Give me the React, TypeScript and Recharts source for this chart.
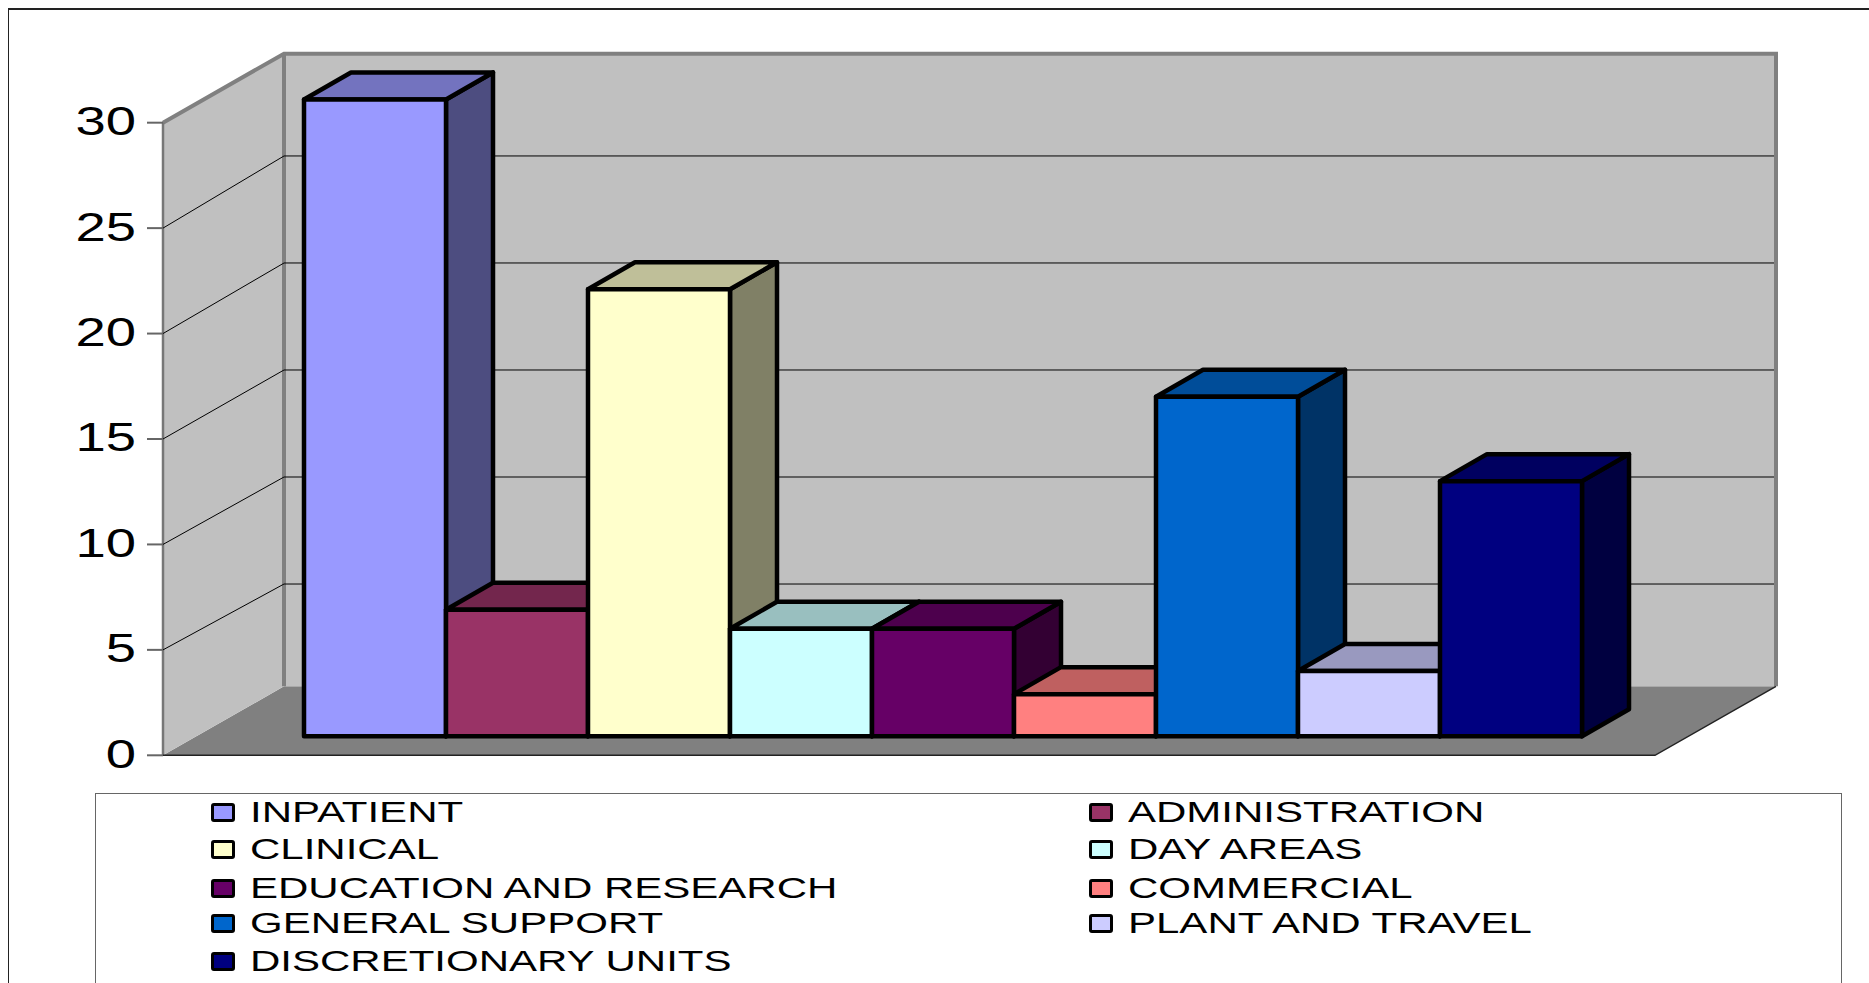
import React from 'react';
import { BarChart, Bar, XAxis, YAxis, Legend, ReferenceArea, ReferenceLine } from 'recharts';

const categories = [
  'INPATIENT',
  'ADMINISTRATION',
  'CLINICAL',
  'DAY AREAS',
  'EDUCATION AND RESEARCH',
  'COMMERCIAL',
  'GENERAL SUPPORT',
  'PLANT AND TRAVEL',
  'DISCRETIONARY UNITS',
];
const values = [30.2, 6, 21.2, 5.1, 5.1, 2, 16.1, 3.1, 12.1];
const colors = ['#9999FF', '#993366', '#FFFFCC', '#CCFFFF', '#660066', '#FF8080', '#0066CC', '#CCCCFF', '#000080'];
const yTicks = [0, 5, 10, 15, 20, 25, 30];
const gridTicks = [5, 10, 15, 20, 25];

const data = categories.map((name, i) => ({ name, value: values[i] }));

const FONT = '"Liberation Sans", Arial, sans-serif';

// the chart is drawn in a fake 3D box
const WALL_DX = 121;
const WALL_DY = 69;
const BAR_LIFT = 19;
const BAR_DX = 47;
const BAR_DY = 27;
const PAD_LEFT = 141;
const PAD_RIGHT = 73;

const legendRows = [18.5, 55.5, 94.5, 129.5, 167.5];
const legendCols = [115, 993];

function shade(hex: string, k: number) {
  const n = parseInt(hex.slice(1), 16);
  const c = (v: number) => Math.round(v * k);
  return `rgb(${c((n >> 16) & 255)},${c((n >> 8) & 255)},${c(n & 255)})`;
}

function Walls({ x: barsLeft, y, width: barsWidth, height }: any) {
  // the area comes in without the axis padding, put it back
  const x = barsLeft - PAD_LEFT;
  const width = barsWidth + PAD_LEFT + PAD_RIGHT;
  const bottom = y + height;
  const right = x + width;
  return (
    <g>
      <polygon
        points={`${x},${bottom} ${x + WALL_DX},${bottom - WALL_DY} ${right + WALL_DX},${bottom - WALL_DY} ${right},${bottom}`}
        fill="#808080"
      />
      <polygon
        points={`${x},${bottom} ${x + WALL_DX},${bottom - WALL_DY} ${x + WALL_DX},${y - WALL_DY} ${x},${y}`}
        fill="#C0C0C0"
      />
      <rect x={x + WALL_DX} y={y - WALL_DY} width={width} height={height} fill="#C0C0C0" />
      <polyline
        points={`${x},${y} ${x + WALL_DX},${y - WALL_DY} ${right + WALL_DX},${y - WALL_DY} ${right + WALL_DX},${bottom - WALL_DY}`}
        fill="none"
        stroke="#808080"
        strokeWidth={4}
      />
      <line x1={x + WALL_DX} y1={y - WALL_DY} x2={x + WALL_DX} y2={bottom - WALL_DY} stroke="#808080" strokeWidth={4} />
      <line x1={x} y1={y} x2={x} y2={bottom} stroke="#777" strokeWidth={2.5} />
      <polyline
        points={`${x},${bottom} ${right},${bottom} ${right + WALL_DX},${bottom - WALL_DY}`}
        fill="none"
        stroke="#222"
        strokeWidth={1.5}
      />
    </g>
  );
}

function WallGridLine({ x1, y1, x2 }: any) {
  // back wall lines are spaced a touch wider than the front ticks
  const backY = y1 - WALL_DY + (y1 - 439) * 0.015;
  return (
    <polyline
      points={`${x1},${y1} ${x1 + WALL_DX},${backY} ${x2 + WALL_DX - 2},${backY}`}
      fill="none"
      stroke="#000"
      strokeWidth={1}
    />
  );
}

function Bar3D({ x, y, width, height, index }: any) {
  const color = colors[index];
  const left = x;
  const right = x + width;
  const top = y - BAR_LIFT;
  const bottom = y + height - BAR_LIFT;
  const common = { stroke: '#000', strokeWidth: 4.5, strokeLinejoin: 'round' as const };
  return (
    <g>
      <polygon
        points={`${right},${top} ${right + BAR_DX},${top - BAR_DY} ${right + BAR_DX},${bottom - BAR_DY} ${right},${bottom}`}
        fill={shade(color, 0.5)}
        {...common}
      />
      <polygon
        points={`${left},${top} ${left + BAR_DX},${top - BAR_DY} ${right + BAR_DX},${top - BAR_DY} ${right},${top}`}
        fill={shade(color, 0.75)}
        {...common}
      />
      <rect x={left} y={top} width={width} height={height} fill={color} {...common} />
    </g>
  );
}

function YTick({ x, y, payload }: any) {
  return (
    <g transform={`translate(${x},${y - 2}) scale(1.36,1)`}>
      <text textAnchor="end" dy="0.36em" fontFamily={FONT} fontSize={40} fill="#000">
        {payload.value}
      </text>
    </g>
  );
}

function ChartLegend() {
  return (
    <div style={{ position: 'relative', width: '100%', height: '100%', fontFamily: FONT }}>
      {categories.map((name, i) => {
        const col = legendCols[i % 2 === 0 ? 0 : 1];
        const row = legendRows[Math.floor(i / 2)];
        return (
          <div key={name} style={{ position: 'absolute', left: col, top: row, height: 0 }}>
            <div
              style={{
                position: 'absolute',
                left: 0,
                top: -10,
                width: 18,
                height: 13,
                border: '3px solid #000',
                borderRadius: 3,
                background: colors[i],
              }}
            />
            <div
              style={{
                position: 'absolute',
                left: 39,
                top: -18,
                fontSize: 30,
                lineHeight: '34px',
                color: '#000',
                whiteSpace: 'nowrap',
                transform: 'scaleX(1.4)',
                transformOrigin: 'left center',
              }}
            >
              {name}
            </div>
          </div>
        );
      })}
    </div>
  );
}

export default function App() {
  return (
    <div style={{ position: 'absolute', left: 0, top: 0, width: 1869, height: 983, overflow: 'hidden', background: '#fff' }}>
      <div
        style={{
          position: 'absolute',
          left: 8,
          top: 8,
          width: 1861,
          height: 975,
          borderLeft: '1.5px solid #222',
          borderTop: '2px solid #222',
        }}
      />
      <BarChart
        width={1869}
        height={983}
        data={data}
        margin={{ top: 101.6, right: 214, bottom: 227.7, left: 0 }}
        barCategoryGap={0}
        style={{ position: 'absolute', left: 0, top: 0 }}
      >
        <XAxis dataKey="name" hide padding={{ left: PAD_LEFT, right: PAD_RIGHT }} />
        <YAxis
          width={163}
          domain={[0, 31]}
          ticks={yTicks}
          interval={0}
          tick={<YTick />}
          tickSize={16}
          tickMargin={11}
          tickLine={{ stroke: '#666', strokeWidth: 2 }}
          axisLine={false}
        />
        <ReferenceArea y1={0} y2={30} shape={<Walls />} ifOverflow="visible" zIndex={-100} />
        {gridTicks.map((t) => (
          <ReferenceLine key={t} y={t} shape={<WallGridLine />} ifOverflow="visible" zIndex={-90} />
        ))}
        <Bar dataKey="value" isAnimationActive={false} shape={<Bar3D />} />
        <Legend
          layout="horizontal"
          verticalAlign="middle"
          align="center"
          content={<ChartLegend />}
          wrapperStyle={{
            position: 'absolute',
            left: 95,
            top: 793,
            width: 1747,
            height: 220,
            right: 'auto',
            bottom: 'auto',
            margin: 0,
            border: '1.5px solid #666',
            background: '#fff',
            boxSizing: 'border-box',
          }}
        />
      </BarChart>
    </div>
  );
}
